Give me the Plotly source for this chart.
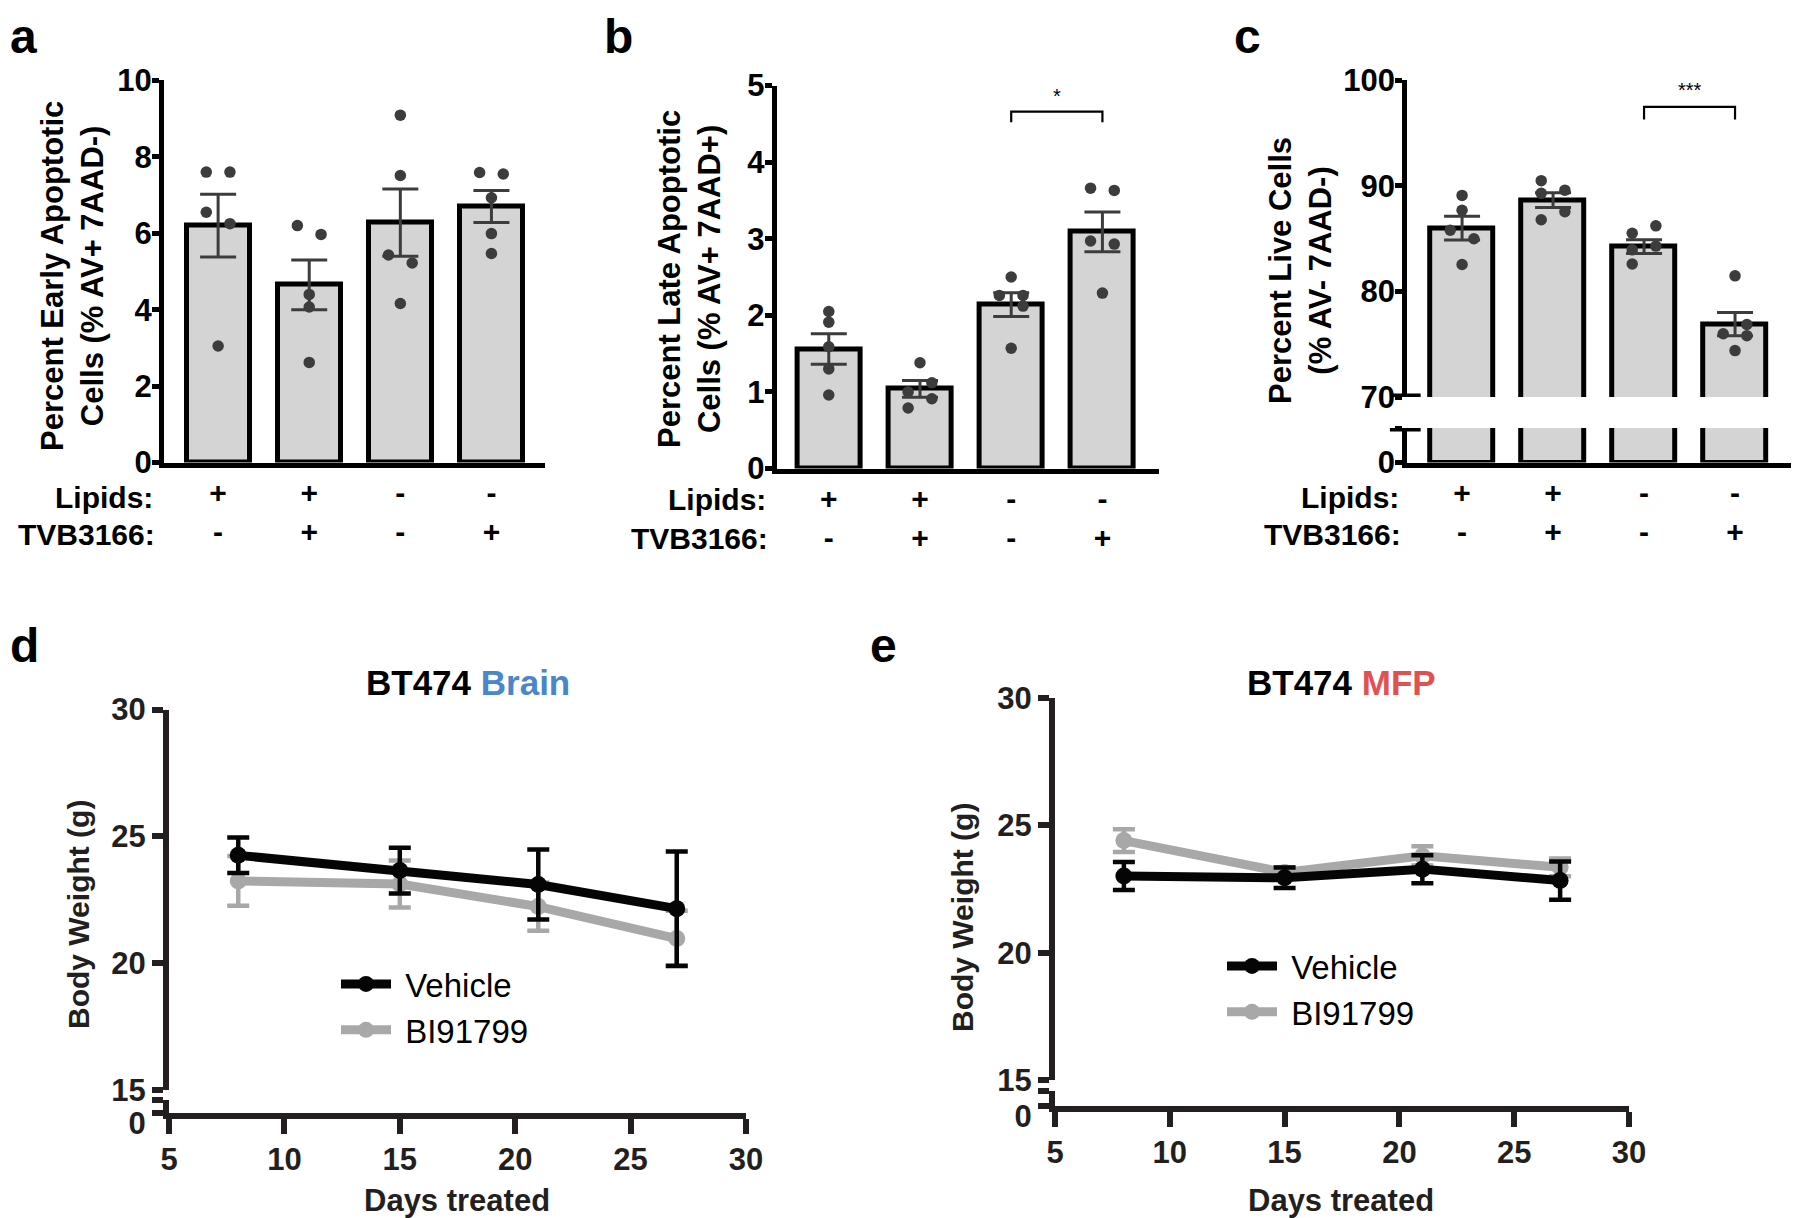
import plotly.graph_objects as go

# window 1800x1218; the page body has an 8px margin, so the figure is 1792x1210
OFF = 8
W, H = 1800 - OFF, 1218 - OFF

# ---------------- data ----------------
lipids = ["+", "+", "-", "-"]
tvb3166 = ["-", "+", "-", "+"]

a_means = [6.2, 4.65, 6.28, 6.7]
a_sem = [0.82, 0.65, 0.88, 0.42]
a_points = [[7.6, 7.6, 6.55, 6.25, 3.05],
            [6.2, 5.97, 4.40, 4.07, 2.62],
            [9.09, 7.51, 5.43, 5.22, 4.16],
            [7.59, 7.55, 6.93, 5.99, 5.47]]

b_means = [1.56, 1.04, 2.14, 3.09]
b_sem = [0.20, 0.11, 0.155, 0.26]
b_points = [[2.05, 1.91, 1.59, 1.30, 0.96],
            [1.38, 1.00, 1.12, 0.91, 0.79],
            [2.50, 2.26, 2.26, 2.12, 1.57],
            [3.66, 3.63, 2.97, 2.93, 2.29]]

c_means = [86.0, 88.65, 84.25, 76.9]
c_sem = [1.13, 0.70, 0.65, 1.10]
c_points = [[89.1, 87.7, 85.8, 85.0, 82.56],
            [90.5, 89.3, 89.6, 87.56, 86.8],
            [85.52, 86.22, 83.95, 84.3, 82.6],
            [81.48, 76.87, 75.99, 75.81, 74.4]]

days = [8, 15, 21, 27]
d_vehicle = [24.25, 23.65, 23.1, 22.15]
d_vehicle_err = [0.7, 0.9, 1.38, 2.25]
d_bi = [23.24, 23.12, 22.23, 20.97]
d_bi_err = [0.98, 0.93, 0.95, 1.1]

e_vehicle = [23.01, 22.94, 23.28, 22.83]
e_vehicle_err = [0.55, 0.4, 0.55, 0.75]
e_bi = [24.4, 23.15, 23.8, 23.35]
e_bi_err = [0.45, 0.2, 0.38, 0.35]

sig_b = dict(i=2, j=3, y=4.66, drop=0.14, label="*", ly=4.86)
sig_c = dict(i=2, j=3, y=97.5, drop=1.2, label="***", ly=99.1)

# ---------------- style / layout constants ----------------
a_jitter = [[-1, 1, -1, 1, 0], [-1, 1, 0, 0, 0], [0, 0, -1, 1, 0], [-1, 1, 0, 0, 0]]
b_jitter = [[0, 0, 0, 0, 0], [0, -1, 1, 1, -1], [0, -1, 1, 1, 0], [-1, 1, -1, 1, 0]]
c_jitter = [[0, 0, -1, 1, 0], [-1, -1, 1, 1, -1], [-1, 1, -1, 1, -1], [0, 1, -1, 1, 0]]
JIT = 0.13

SANS = "Liberation Sans, Arial, Helvetica, sans-serif"
NARROW = "Liberation Sans Narrow, Arial Narrow, Liberation Sans, Arial, sans-serif"
BAR_FILL = "#d4d4d4"
DOT = "#3c3c3c"
AX_DARK = "#231f20"
BLACK = "#050505"
GRAY = "#a8a8a8"


def px_x(p):
    return (p - OFF) / W


def px_y(p):
    return 1 - (p - OFF) / H


fig = go.Figure()


def bar_panel(xa, ya, means, sems, points, jit, with_points=True):
    fig.add_trace(go.Bar(
        x=list(range(len(means))), y=means, width=0.69,
        marker=dict(color=BAR_FILL, line=dict(color="black", width=5)),
        error_y=dict(type="data", array=sems, color=DOT, thickness=3, width=18),
        xaxis=xa, yaxis=ya, showlegend=False, hoverinfo="skip"))
    if with_points:
        xs, ys = [], []
        for i, (pts, jj) in enumerate(zip(points, jit)):
            for p, j in zip(pts, jj):
                xs.append(i + j * JIT)
                ys.append(p)
        fig.add_trace(go.Scatter(
            x=xs, y=ys, mode="markers",
            marker=dict(size=11.5, color=DOT),
            xaxis=xa, yaxis=ya, showlegend=False, hoverinfo="skip"))


bar_panel("x", "y", a_means, a_sem, a_points, a_jitter)
bar_panel("x2", "y2", b_means, b_sem, b_points, b_jitter)
bar_panel("x3", "y3", c_means, c_sem, c_points, c_jitter)
bar_panel("x4", "y4", c_means, c_sem, c_points, c_jitter, with_points=False)


def line_panel(xa, ya, xa_low, ya_low, veh, veh_err, bi, bi_err, legend):
    fig.add_trace(go.Scatter(
        x=days, y=bi, mode="lines+markers", name="\u00a0BI91799",
        line=dict(color=GRAY, width=9), marker=dict(size=17, color=GRAY),
        error_y=dict(type="data", array=bi_err, color=GRAY, thickness=4.5, width=11),
        xaxis=xa, yaxis=ya, legend=legend, legendrank=2))
    fig.add_trace(go.Scatter(
        x=days, y=veh, mode="lines+markers", name="\u00a0Vehicle",
        line=dict(color=BLACK, width=9), marker=dict(size=17, color=BLACK),
        error_y=dict(type="data", array=veh_err, color=BLACK, thickness=4.5, width=11),
        xaxis=xa, yaxis=ya, legend=legend, legendrank=1))
    # lower (broken-axis) segment: same data, falls outside its 0-1 range
    fig.add_trace(go.Scatter(
        x=days, y=veh, mode="markers", marker=dict(size=1, color=BLACK),
        xaxis=xa_low, yaxis=ya_low, showlegend=False, hoverinfo="skip"))


line_panel("x5", "y5", "x6", "y6", d_vehicle, d_vehicle_err, d_bi, d_bi_err, "legend")
line_panel("x7", "y7", "x8", "y8", e_vehicle, e_vehicle_err, e_bi, e_bi_err, "legend2")

# ---------------- axes ----------------
tick_abc = dict(family=SANS, size=31, color="black", weight="bold")
cat_text = [f"{l}<br>{t}" for l, t in zip(lipids, tvb3166)]


def bar_y(domain_px, rng, tickvals, anchor, ticktext=None):
    d = dict(domain=[px_y(domain_px[1]), px_y(domain_px[0])], range=rng,
             showline=True, linewidth=5, linecolor="black", ticks="outside",
             ticklen=7, tickwidth=5, tickcolor="black", tickvals=tickvals,
             tickfont=tick_abc, ticklabelstandoff=-6, showgrid=False,
             zeroline=False, anchor=anchor, automargin=False)
    if ticktext is not None:
        d["ticktext"] = ticktext
    return d


def bar_x(domain_px, rng, anchor, visible=True):
    return dict(domain=[px_x(domain_px[0]), px_x(domain_px[1])], range=rng,
                showline=True, linewidth=5, linecolor="black", ticks="",
                tickvals=[0, 1, 2, 3], ticktext=cat_text,
                tickfont=dict(family=SANS, size=30, color="black", weight="bold"),
                ticklabelstandoff=-1, showgrid=False, zeroline=False,
                anchor=anchor, visible=visible, automargin=False)


layout = dict(
    width=W, height=H, margin=dict(l=0, r=0, t=0, b=0, autoexpand=False),
    paper_bgcolor="white", plot_bgcolor="rgba(0,0,0,0)",
    bargap=0, showlegend=True,
    xaxis=bar_x((164, 545), [-0.594, 3.588], "y"),
    yaxis=bar_y((80.4, 462.5), [0, 10], [0, 2, 4, 6, 8, 10], "x"),
    xaxis2=bar_x((776.6, 1158.7), [-0.572, 3.617], "y2"),
    yaxis2=bar_y((85.5, 468.5), [0, 5], [0, 1, 2, 3, 4, 5], "x2"),
    xaxis3=bar_x((1407.2, 1791), [-0.603, 3.615], "y3", visible=False),
    yaxis3=bar_y((80.4, 397), [70, 100], [70, 80, 90, 100], "x3"),
    xaxis4=bar_x((1407.2, 1791), [-0.603, 3.615], "y4"),
    yaxis4=bar_y((428, 462.5), [0, 10], [0, 10], "x4", ticktext=["0", ""]),
)

tick_de = dict(family=NARROW, size=31, color=AX_DARK, weight="bold")


def line_y(domain_px, rng, tickvals, anchor, ticktext=None, shift=0):
    d = dict(domain=[px_y(domain_px[1]), px_y(domain_px[0])], range=rng,
             showline=True, linewidth=6, linecolor=AX_DARK, ticks="outside",
             ticklen=11, tickwidth=6, tickcolor=AX_DARK, tickvals=tickvals,
             tickfont=tick_de, ticklabelshift=shift, showgrid=False,
             zeroline=False, anchor=anchor, automargin=False)
    if ticktext is not None:
        d["ticktext"] = ticktext
    return d


def line_x(domain_px, anchor, visible=True):
    return dict(domain=[px_x(domain_px[0]), px_x(domain_px[1])], range=[5, 30],
                showline=True, linewidth=6, linecolor=AX_DARK, ticks="outside",
                ticklen=15, tickwidth=6, tickcolor=AX_DARK,
                tickvals=[5, 10, 15, 20, 25, 30], tickfont=tick_de,
                ticklabelstandoff=-1, showgrid=False, zeroline=False,
                anchor=anchor, visible=visible, automargin=False)


layout.update(
    xaxis5=line_x((169, 746), "y5", visible=False),
    yaxis5=line_y((709.5, 1090), [15, 30], [15, 20, 25, 30], "x5"),
    xaxis6=line_x((169, 746), "y6"),
    yaxis6=line_y((1100, 1113), [0, 1], [0, 1], "x6", ticktext=["0", ""], shift=10),
    xaxis7=line_x((1055, 1629), "y7", visible=False),
    yaxis7=line_y((698, 1080), [15, 30], [15, 20, 25, 30], "x7"),
    xaxis8=line_x((1055, 1629), "y8"),
    yaxis8=line_y((1091, 1106), [0, 1], [0, 1], "x8", ticktext=["0", ""], shift=10),
)

legend_font = dict(family=NARROW, size=33, color="black")
layout["legend"] = dict(x=px_x(336), y=px_y(956), xanchor="left", yanchor="top",
                        font=legend_font, itemwidth=50, bgcolor="rgba(0,0,0,0)",
                        traceorder="normal", tracegroupgap=0)
layout["legend2"] = dict(x=px_x(1222), y=px_y(938), xanchor="left", yanchor="top",
                         font=legend_font, itemwidth=50, bgcolor="rgba(0,0,0,0)",
                         traceorder="normal", tracegroupgap=0)

fig.update_layout(**layout)

# ---------------- annotations ----------------
ann = []


def text(xp, yp, t, size, family=SANS, weight="bold", xanchor="center",
         yanchor="middle", angle=0, color="black"):
    ann.append(dict(x=px_x(xp), y=px_y(yp), xref="paper", yref="paper", text=t,
                    showarrow=False, xanchor=xanchor, yanchor=yanchor,
                    textangle=angle,
                    font=dict(family=family, size=size, color=color, weight=weight)))


# panel letters
text(8, 8, "a", 48, xanchor="left", yanchor="top")
text(602, 8, "b", 48, xanchor="left", yanchor="top")
text(1232, 8, "c", 48, xanchor="left", yanchor="top")
text(8, 645, "d", 48, xanchor="left")
text(868, 645, "e", 48, xanchor="left")

# y titles (bar panels)
text(73, 276, "Percent Early Apoptotic<br>Cells (% AV+ 7AAD-)", 31, angle=-90)
text(689, 279, "Percent Late Apoptotic<br>Cells (% AV+ 7AAD+)", 31, angle=-90)
text(1300, 271, "Percent Live Cells<br>(% AV- 7AAD-)", 31, angle=-90)

# row labels
for right, y1, y2 in [(155, 497, 535), (768, 500, 538), (1401, 497, 535)]:
    text(right, y1, "Lipids:", 30, xanchor="right")
    text(right + 2, y2, "TVB3166:", 30, xanchor="right")

# significance brackets
shapes = []
for sig, xa, ya in [(sig_b, "x2", "y2"), (sig_c, "x3", "y3")]:
    i, j, y, dr = sig["i"], sig["j"], sig["y"], sig["drop"]
    shapes.append(dict(type="path", xref=xa, yref=ya,
                       path=f"M {i},{y - dr} L {i},{y} L {j},{y} L {j},{y - dr}",
                       line=dict(color="black", width=2.2)))
    ann.append(dict(x=(i + j) / 2, y=sig["ly"], xref=xa, yref=ya, text=sig["label"],
                    showarrow=False, xanchor="center", yanchor="middle",
                    font=dict(family=SANS, size=20, color="black")))

# axis break marks for panel c (extend across the axis line)
for ya, xd, yv in [("y3", "x3 domain", 70), ("y4", "x4 domain", 10)]:
    shapes.append(dict(type="line", xref=xd, yref=ya, x0=-0.045, x1=0.035,
                       y0=yv, y1=yv, line=dict(color="black", width=7)))

# line panel titles and axis titles
text(468, 682, "BT474 <span style='color:#4a86c8'>Brain</span>", 35)
text(1341, 682, "BT474 <span style='color:#e05252'>MFP</span>", 35)
text(78, 915, "Body Weight (g)", 30, angle=-90, color=AX_DARK)
text(962, 918, "Body Weight (g)", 30, angle=-90, color=AX_DARK)
text(457, 1200, "Days treated", 31, color=AX_DARK)
text(1341, 1200, "Days treated", 31, color=AX_DARK)

fig.update_layout(annotations=ann, shapes=shapes)

fig.write_html("out.html")
